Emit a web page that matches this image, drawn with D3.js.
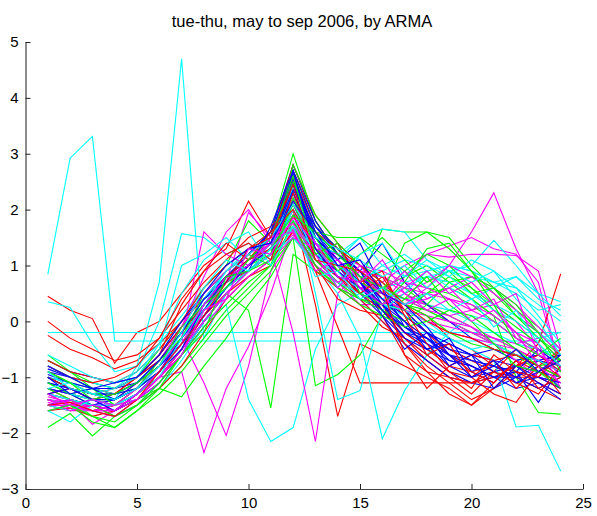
<!DOCTYPE html>
<html>
<head>
<meta charset="utf-8">
<script src="https://cdn.jsdelivr.net/npm/d3@7"></script>
<style>
  body { margin: 0; background: #fff; }
  text { font-family: Arial, "Liberation Sans", sans-serif; }
</style>
</head>
<body>
<div id="chart"></div>
<script>
// hours 1..24, one line per day
const hours = d3.range(1, 25);
const xTicks = [0, 5, 10, 15, 20, 25];
const yTicks = [-3, -2, -1, 0, 1, 2, 3, 4, 5];

const redDays = [
  [0.45,0.2,0.05,-0.75,-0.2,0.0,0.5,1.0,1.3,2.15,1.5,2.7,1.8,1.2,0.9,0.5,0.3,0.1,-0.3,-0.5,-0.8,-0.9,-1.0,-0.6],
  [-0.25,-0.5,-0.65,-0.85,-0.7,-0.4,0.0,0.4,0.8,1.1,1.3,2.3,1.5,1.1,0.7,0.5,0.1,-0.2,-0.5,-0.7,-0.9,-1.0,-1.0,-1.2],
  [-1.0,-1.2,-1.3,-1.4,-1.1,-0.8,-0.3,0.3,0.7,0.9,1.3,2.0,0.3,-1.7,-0.4,-0.6,-0.8,-1.0,-1.2,-1.5,-1.2,-0.9,-1.1,-1.3],
  [-1.3,-1.5,-1.6,-1.5,-1.3,-0.9,-0.4,0.1,0.6,1.0,1.3,1.8,0.9,-0.1,-1.1,-1.1,-1.1,-1.1,-1.1,-1.1,-1.0,-0.8,-0.7,-1.0],
  [-1.1,-1.3,-1.4,-1.5,-1.3,-0.9,-0.4,0.2,0.7,1.1,1.4,2.6,1.7,1.3,0.8,0.2,-0.3,-0.7,-1.0,-1.3,-0.9,-0.5,-0.7,-0.9],
  [-1.5,-1.6,-1.5,-1.6,-1.4,-1.0,-0.6,0.0,0.5,0.9,1.2,2.2,1.3,1.0,0.6,0.3,-0.4,-0.9,-1.3,-1.5,-1.1,-0.7,-0.9,-1.1],
  [-0.9,-1.1,-1.2,-1.3,-1.0,-0.6,-0.1,0.5,0.9,1.2,1.5,2.8,1.9,1.4,1.0,0.6,0.2,-0.2,-0.6,-0.8,-1.0,-0.8,-0.4,0.85],
  [-1.2,-1.4,-1.5,-1.7,-1.5,-1.2,-0.8,-0.2,0.4,0.8,1.1,1.6,0.9,0.6,0.3,-0.1,-0.3,-0.6,-0.9,-1.0,-1.3,-1.45,-0.9,-0.7],
  [-1.4,-1.5,-1.6,-1.5,-1.2,-0.8,-0.3,0.2,0.6,1.0,1.3,2.5,1.6,1.2,0.9,0.4,0.0,-0.3,-0.6,-0.9,-0.8,-1.0,-1.2,-1.4],
  [-0.7,-0.9,-1.0,-1.1,-0.9,-0.5,0.0,0.6,1.0,1.3,1.6,2.4,1.4,0.9,0.5,0.2,-0.2,-0.5,-0.8,-0.6,-0.7,-0.6,-0.8,-0.5],
  [-1.6,-1.55,-1.7,-1.6,-1.3,-1.0,-0.5,0.1,0.5,0.8,1.0,1.9,1.1,0.8,0.4,0.0,-0.4,-0.8,-1.1,-1.4,-1.2,-0.8,-0.6,-0.9],
  [0.0,-0.3,-0.5,-0.7,-0.6,-0.3,0.2,0.7,1.1,1.5,1.7,2.1,1.6,1.3,1.0,0.7,0.3,0.0,-0.2,-0.3,-0.5,-0.6,-0.8,-1.0],
  [-1.0,-1.2,-1.3,-1.2,-1.0,-0.7,-0.2,0.3,0.8,1.1,1.3,1.7,1.0,0.4,0.2,0.1,-0.6,-0.9,-1.0,-1.1,-0.9,-1.1,-1.3,-0.8],
  [-1.3,-1.2,-1.4,-1.3,-1.0,-0.6,0.3,0.9,1.2,1.4,1.1,2.3,1.2,1.4,0.7,0.9,0.1,-0.6,-0.4,-1.0,-0.7,-1.2,-0.8,-1.3],
  [-0.8,-1.0,-1.1,-1.0,-0.8,-0.3,0.4,0.9,1.4,1.1,1.6,2.0,1.3,0.8,0.5,0.8,0.2,-0.4,-0.9,-1.2,-0.6,-0.9,-1.0,-0.5],
  [-1.5,-1.45,-1.6,-1.7,-1.4,-0.9,-0.4,0.1,0.7,1.3,1.5,2.45,1.1,1.0,0.9,0.6,-0.6,-1.2,-0.8,-0.9,-1.1,-0.7,-1.2,-1.0]
];

const greenDays = [
  [-1.0,-1.2,-1.3,-1.3,-1.1,-0.7,-0.2,0.4,0.8,1.2,1.6,3.0,1.8,1.2,0.9,0.6,0.4,0.2,0.0,-0.2,-0.3,-0.5,-0.7,-0.9],
  [-1.9,-1.65,-2.05,-1.7,-1.4,-1.1,-0.6,0.0,0.5,0.9,1.2,2.0,1.2,0.8,0.6,0.5,0.3,0.2,0.0,-0.2,-0.4,-0.6,-0.8,-1.0],
  [-0.6,-0.9,-1.2,-1.5,-1.3,-0.9,-0.5,0.0,0.5,0.2,-1.55,1.2,0.9,0.7,0.5,0.6,0.8,1.0,0.7,0.4,0.1,-0.2,-0.6,-0.8],
  [-1.2,-1.3,-1.5,-1.6,-1.4,-1.0,-0.5,0.1,0.6,1.0,1.3,2.4,1.5,1.0,0.7,1.65,1.6,1.6,1.5,1.0,0.6,0.2,-0.1,-0.5],
  [-1.3,-1.4,-1.7,-1.9,-1.6,-1.2,-0.8,-0.3,0.2,0.6,1.0,1.5,-1.15,-0.95,-0.6,0.1,0.4,0.5,0.6,0.4,0.1,-1.0,-1.63,-1.66],
  [-0.8,-1.0,-1.2,-1.3,-1.2,-0.9,-0.4,0.2,0.7,1.1,1.5,2.7,1.7,1.3,1.0,0.8,0.6,0.3,0.1,-0.1,-0.4,-0.6,-0.8,-0.7],
  [-1.0,-1.2,-1.4,-1.5,-1.4,-1.2,-1.35,-0.8,-0.3,0.3,0.8,1.5,1.0,0.6,0.4,0.3,0.2,0.5,0.8,0.6,0.3,0.0,-0.3,-0.6],
  [-1.5,-1.4,-1.6,-1.5,-1.3,-1.0,-0.5,0.2,0.7,1.0,1.4,2.2,1.4,1.1,0.8,0.5,0.9,1.2,1.0,0.6,0.2,-0.1,-0.4,-0.8],
  [-0.7,-0.9,-1.1,-1.2,-1.0,-0.5,0.0,0.6,1.0,1.8,1.4,2.5,1.6,1.5,1.5,1.2,0.9,0.6,0.5,0.3,0.0,-0.3,-0.5,-0.7],
  [-1.1,-1.3,-1.4,-1.4,-1.2,-0.8,-0.3,0.3,0.7,1.0,1.2,2.8,1.9,1.4,1.0,0.7,0.3,0.1,-0.2,-0.4,-0.5,-0.6,-0.9,-1.1],
  [-1.4,-1.5,-1.8,-1.9,-1.6,-1.3,-0.9,-0.4,0.1,0.5,0.9,1.8,1.1,0.7,0.4,0.2,0.0,0.3,0.7,0.8,0.6,0.3,-0.2,-0.6],
  [-0.9,-1.1,-1.3,-1.4,-1.2,-0.9,-0.4,0.2,0.6,0.9,1.1,2.1,1.3,1.0,0.7,0.5,1.4,1.6,1.3,0.9,0.5,0.1,-0.3,-0.7],
  [-1.2,-1.4,-1.5,-1.7,-1.5,-1.1,-0.6,-0.1,0.3,0.7,1.0,1.7,1.0,0.6,0.3,0.1,-0.1,0.0,0.2,0.1,-0.2,-0.5,-0.8,-1.0],
  [-1.1,-1.3,-1.2,-1.5,-1.2,-0.7,-0.3,0.5,0.9,1.2,1.0,2.2,1.5,0.9,1.2,1.5,1.1,0.7,0.9,0.5,0.6,0.1,-0.2,-0.9],
  [-0.9,-1.1,-1.4,-1.3,-1.1,-0.8,-0.1,0.3,0.6,1.1,1.5,2.6,1.2,1.4,0.5,0.3,0.7,1.3,1.4,0.9,0.3,-0.4,-0.6,-0.3],
  [-1.6,-1.5,-1.7,-1.8,-1.5,-1.2,-0.6,-0.2,0.8,0.9,1.3,1.9,1.6,1.2,0.8,0.6,0.4,0.8,0.3,0.0,-0.4,-0.8,-0.9,-1.2]
];

const blueDays = [
  [-1.0,-1.1,-1.3,-1.4,-1.2,-0.8,-0.3,0.3,0.8,1.1,1.5,2.6,1.6,1.1,0.6,0.2,-0.1,-0.3,-0.5,-0.7,-0.8,-0.9,-1.0,-1.1],
  [-1.2,-1.3,-1.4,-1.5,-1.3,-0.9,-0.4,0.2,0.7,1.0,1.4,2.4,1.4,1.0,0.5,0.1,-0.3,-0.6,-0.9,-1.1,-1.0,-0.9,-1.45,-0.8],
  [-0.9,-1.0,-1.2,-1.3,-1.1,-0.7,-0.2,0.4,0.9,1.2,1.6,2.8,1.8,1.2,0.8,0.4,0.1,-0.2,-0.4,-0.6,-0.7,-0.8,-0.9,-1.0],
  [-1.3,-1.4,-1.5,-1.5,-1.3,-1.0,-0.5,0.1,0.6,1.0,1.3,2.2,1.3,0.9,0.5,0.3,-0.2,-0.5,-0.7,-0.8,-1.0,-1.2,-1.1,-1.3],
  [-1.1,-1.2,-1.3,-1.4,-1.2,-0.8,-0.3,0.3,0.8,1.1,1.5,2.5,1.5,1.0,0.6,0.2,-0.2,-0.4,-0.6,-0.9,-1.1,-0.7,-0.6,-0.9],
  [-0.7,-0.9,-1.0,-1.1,-1.0,-0.6,-0.1,0.5,0.9,1.2,1.6,2.3,1.4,1.2,0.9,1.4,0.7,0.3,0.0,-0.3,-0.5,-0.6,-0.7,-0.8],
  [-1.4,-1.5,-1.4,-1.3,-1.2,-0.9,-0.4,0.2,0.6,0.9,1.2,2.0,1.1,0.8,0.4,0.0,-0.4,-0.7,-1.0,-1.1,-1.2,-1.0,-0.8,-1.2],
  [-0.85,-1.0,-1.1,-1.2,-1.1,-0.7,-0.2,0.4,0.8,1.1,1.5,2.7,1.7,1.3,0.9,0.5,0.2,-0.2,-0.5,-0.6,-0.5,-0.7,-0.6,-0.8],
  [-1.0,-1.2,-1.3,-1.3,-1.1,-0.8,-0.3,0.2,0.7,1.0,1.4,2.45,1.5,1.1,1.4,0.6,-0.1,-0.4,-0.8,-1.0,-0.9,-0.8,-1.0,-1.2],
  [-1.2,-1.3,-1.5,-1.6,-1.4,-1.1,-0.6,0.0,0.5,0.9,1.3,2.1,1.2,0.9,0.6,0.3,-0.1,-0.3,-0.6,-0.7,-0.8,-1.0,-0.7,-0.6],
  [-0.95,-1.1,-1.2,-1.2,-1.0,-0.7,-0.2,0.3,0.8,1.2,1.6,2.55,1.6,1.2,0.8,0.4,0.0,-0.3,-0.6,-0.8,-1.0,-0.9,-0.5,-0.8],
  [-1.5,-1.4,-1.5,-1.4,-1.2,-0.8,-0.4,0.1,0.6,1.0,1.3,2.3,1.4,1.0,0.7,0.2,-0.3,-0.5,-0.4,-0.6,-0.9,-1.1,-1.0,-1.1],
  [-1.1,-1.2,-1.4,-1.4,-1.2,-0.9,-0.3,0.2,0.8,1.0,1.5,2.65,1.5,1.1,0.7,0.3,-0.2,-0.3,-0.7,-0.8,-1.0,-1.0,-1.2,-1.0],
  [-1.0,-1.3,-1.2,-1.4,-1.1,-0.7,-0.2,0.4,0.7,1.3,1.4,2.35,1.7,1.2,0.9,0.3,0.0,-0.5,-0.3,-0.9,-0.7,-1.1,-0.9,-0.6],
  [-1.3,-1.2,-1.4,-1.6,-1.3,-0.9,-0.5,0.3,0.8,0.9,1.7,2.7,1.3,0.8,0.7,0.1,-0.5,-0.2,-0.8,-0.6,-1.2,-0.8,-1.1,-1.4],
  [-0.8,-1.0,-1.2,-1.1,-1.0,-0.6,0.0,0.5,1.0,1.3,1.4,2.15,1.6,1.0,1.1,0.5,0.3,-0.1,-0.6,-1.0,-0.8,-0.5,-0.9,-0.7]
];

const cyanDays = [
  [0.84,2.92,3.31,-0.35,-0.35,-0.35,-0.35,-0.35,-0.35,-0.35,-0.35,-0.35,-0.35,-0.35,-0.35,-0.35,-0.35,-0.35,-0.35,-0.35,-0.35,-0.35,-0.35,-0.35],
  [-0.2,-0.2,-0.2,-0.2,-0.2,-0.2,-0.2,-0.2,-0.2,-0.2,-0.2,-0.2,-0.2,-0.2,-0.2,-0.2,-0.2,-0.2,-0.2,-0.2,-0.2,-0.2,-0.2,-0.2],
  [-1.0,-1.2,-1.3,-1.4,-0.8,0.7,4.7,-0.3,0.5,0.9,1.2,1.8,1.1,0.8,0.6,0.5,0.4,0.3,0.2,0.0,-0.2,-0.4,-0.5,-0.7],
  [0.35,0.25,-0.4,-0.9,-0.8,-0.4,0.1,0.6,1.0,1.3,1.2,1.8,1.3,1.1,1.5,1.65,1.6,1.1,0.9,1.0,1.45,1.0,0.5,0.35],
  [-1.3,-1.4,-1.5,-1.6,-1.4,-1.0,-0.5,0.0,0.3,-1.4,-2.15,-1.9,-0.5,0.3,0.5,0.6,0.7,0.8,0.9,0.8,0.7,0.5,0.2,0.3],
  [-1.6,-1.8,-1.5,-1.7,-1.5,-1.2,-0.7,-0.1,0.4,0.8,1.1,1.9,1.0,0.5,-0.3,-2.1,-1.24,-0.6,-0.2,0.1,0.0,-0.3,-0.5,-0.6],
  [-1.2,-1.3,-1.4,-1.5,-1.4,-1.0,-0.5,0.1,0.6,1.0,1.3,2.2,1.3,0.9,0.6,0.3,0.1,-0.1,-0.3,-0.5,-0.7,-1.89,-1.86,-2.68],
  [-1.0,-1.1,-1.2,-1.3,-1.1,-0.7,-0.2,0.4,0.9,1.3,1.6,1.6,1.4,1.2,1.5,1.0,0.8,0.9,1.0,0.9,0.7,0.8,0.4,0.2],
  [-0.8,-1.0,-1.1,-1.2,-0.9,0.0,1.57,1.5,1.2,1.4,1.1,2.0,1.2,0.8,0.6,0.4,0.6,0.8,0.7,0.5,0.3,0.1,-0.2,-0.5],
  [-1.1,-1.3,-1.4,-1.5,-1.3,-0.9,-0.4,0.2,0.7,1.0,1.4,2.3,0.5,-1.4,-1.24,0.2,0.5,0.9,1.0,0.9,0.7,0.6,0.3,0.0],
  [-1.4,-1.5,-1.6,-1.7,-1.5,-1.1,-0.6,0.0,0.5,0.9,1.2,1.5,1.0,0.7,0.5,0.3,0.2,0.0,-0.3,-0.5,-0.4,-0.6,-0.7,-0.9],
  [-0.6,-0.8,-1.0,-1.1,-0.9,-0.5,1.0,1.2,1.5,1.1,1.3,2.0,1.2,1.0,0.8,0.9,1.1,1.0,0.8,0.5,0.2,0.0,-0.3,-0.2],
  [-1.3,-1.4,-1.5,-1.5,-1.3,-0.9,-0.4,0.2,0.6,0.9,1.3,2.4,1.4,1.0,0.7,1.0,1.2,0.9,0.6,0.4,0.6,0.8,0.5,0.1],
  [-1.2,-1.1,-1.3,-1.2,-1.0,-0.4,0.5,1.1,1.4,1.6,1.0,1.7,1.3,0.6,1.2,1.4,0.8,1.1,0.8,1.1,0.9,0.6,0.1,-0.4],
  [-1.5,-1.6,-1.4,-1.5,-1.3,-1.0,-0.3,0.3,0.9,1.2,1.5,2.1,1.5,1.3,1.1,0.8,1.0,0.6,0.9,0.7,0.9,0.4,0.0,-0.6],
  [-0.9,-1.2,-1.3,-1.4,-1.2,-0.8,-0.2,0.6,1.1,0.9,1.3,1.7,0.8,0.9,0.4,0.6,0.3,0.5,0.2,0.4,-0.1,0.2,-0.4,-0.8]
];

const magentaDays = [
  [-1.4,-1.5,-1.5,-1.6,-1.3,-0.9,-0.4,0.1,0.6,0.9,1.2,1.6,1.0,0.6,0.4,0.3,0.5,0.7,1.0,1.6,2.3,1.3,0.5,-0.9],
  [-1.3,-1.4,-1.5,-1.5,-1.3,-1.0,-0.5,0.0,0.5,0.9,1.2,1.8,1.1,0.7,0.3,0.3,0.8,1.2,1.35,1.5,1.3,1.2,0.7,-0.9],
  [-1.5,-1.5,-1.6,-1.6,-1.4,-1.0,-0.9,-2.35,-1.2,-0.45,0.5,1.7,1.0,0.7,0.5,0.3,0.2,0.0,-0.2,-0.3,-0.4,-0.6,-0.8,-1.0],
  [-1.4,-1.5,-1.5,-1.5,-1.2,-0.8,-0.3,-1.1,-2.04,-0.8,0.9,1.5,1.2,1.0,0.8,0.6,0.4,0.3,0.1,0.2,0.3,0.0,-0.5,-0.8],
  [-1.45,-1.55,-1.6,-1.5,-1.3,-0.9,-0.4,0.1,0.6,1.0,1.3,-0.2,-2.15,0.5,0.9,0.8,0.5,0.3,0.0,-0.2,-0.4,-0.5,-0.7,-0.9],
  [-1.3,-1.4,-1.5,-1.4,-1.2,-0.7,-0.1,0.8,1.6,2.0,1.4,1.9,1.3,1.0,0.7,0.4,0.2,0.1,0.0,-0.1,-0.3,-0.5,-0.7,-0.6],
  [-1.5,-1.6,-1.6,-1.7,-1.5,-1.1,-0.6,0.0,0.5,0.9,1.2,1.55,1.1,0.8,0.6,0.7,1.0,1.2,1.15,1.2,1.2,1.18,0.9,-0.5],
  [-1.4,-1.45,-1.84,-1.6,-1.3,-0.9,-0.4,0.1,0.7,1.95,1.5,1.7,1.2,0.9,0.6,0.4,0.2,0.0,-0.1,-0.2,-0.3,-0.4,-0.3,-0.7],
  [-1.2,-1.3,-1.4,-1.5,-1.3,-0.9,-0.3,1.6,1.2,1.0,1.3,2.0,1.2,0.9,0.6,0.5,0.3,0.4,0.6,0.8,0.6,0.3,-0.1,-0.5],
  [-1.5,-1.5,-1.5,-1.5,-1.3,-1.0,-0.5,0.1,0.6,1.0,1.4,2.1,1.3,1.0,0.8,0.6,0.4,0.2,0.1,-0.1,-0.4,-0.7,-1.0,-1.1],
  [-1.35,-1.45,-1.5,-1.4,-1.2,-0.8,-0.3,0.2,0.7,1.1,1.4,1.65,1.0,0.7,0.9,0.8,0.6,0.5,0.4,0.3,0.1,-0.2,-0.4,-1.2],
  [-1.6,-1.5,-1.6,-1.7,-1.4,-1.1,-0.6,-0.1,0.4,0.8,1.1,1.5,1.3,1.2,1.0,0.9,0.7,0.6,0.4,0.2,0.0,-0.3,-0.6,-0.8],
  [-1.4,-1.5,-1.6,-1.6,-1.4,-1.0,-0.5,0.0,0.5,0.9,1.3,2.2,1.4,1.1,0.8,0.5,0.3,0.6,1.0,0.8,0.5,0.2,-0.2,-0.6],
  [-1.5,-1.4,-1.6,-1.5,-1.2,-0.8,-0.1,0.5,0.9,1.2,1.5,1.75,1.2,0.6,1.0,0.5,0.9,0.4,0.6,0.2,0.4,-0.3,-0.5,-1.0],
  [-1.4,-1.6,-1.5,-1.6,-1.3,-0.9,-0.4,0.3,0.8,1.0,1.5,1.6,0.9,1.1,0.6,0.3,0.6,0.9,0.5,0.7,0.3,0.5,-0.6,-0.8],
  [-1.3,-1.5,-1.4,-1.5,-1.4,-1.0,-0.6,0.2,0.4,1.3,1.2,1.85,1.4,0.8,0.7,1.1,0.5,0.2,0.4,0.0,0.2,-0.2,-0.8,-1.1]
];

const groups = [
  { color: "#ff0000", days: redDays },
  { color: "#00ff00", days: greenDays },
  { color: "#0000ff", days: blueDays },
  { color: "#00ffff", days: cyanDays },
  { color: "#ff00ff", days: magentaDays }
];

let width = 597;
let height = 516;

// matlab style colour cycle: r, g, b, c, m, r, g, ...
let lines = [];
for (let i = 0; i < redDays.length; i++) {
    groups.forEach(g => {
        if (g.days[i]) lines.push({ color: g.color, values: g.days[i] });
    });
}

let svg = d3.select("#chart").append("svg")
    .attr("width", width)
    .attr("height", height);

let x = d3.scaleLinear().domain([0, 25]).range([25.5, 583]);
let y = d3.scaleLinear().domain([-3, 5]).range([489, 42]);

let line = d3.line()
    .x((d, i) => x(hours[i]))
    .y(d => y(d));

svg.append("g")
    .selectAll("path")
    .data(lines)
    .enter()
    .append("path")
    .attr("d", d => line(d.values))
    .attr("fill", "none")
    .attr("stroke", d => d.color)
    .attr("stroke-width", 1.1);

/* axes, ticks point inwards */
let xAxis = d3.axisBottom(x).tickValues(xTicks).tickSize(-5).tickPadding(8).tickSizeOuter(0);
let yAxis = d3.axisLeft(y).tickValues(yTicks).tickSize(-5).tickPadding(7).tickSizeOuter(0);

let gx = svg.append("g")
    .attr("transform", `translate(0, ${y(-3)})`)
    .call(xAxis);

let gy = svg.append("g")
    .attr("transform", `translate(${x(0)}, 0)`)
    .call(yAxis);

[gx, gy].forEach(g => {
    g.select(".domain").attr("stroke", "#404040").attr("stroke-width", 1.2);
    g.selectAll(".tick line").attr("stroke", "#222");
    g.selectAll("text")
        .attr("fill", "#000")
        .style("font-size", "15px")
        .style("font-family", "Arial, 'Liberation Sans', sans-serif");
});

svg.append("text")
    .attr("x", 302)
    .attr("y", 27)
    .attr("text-anchor", "middle")
    .style("font-size", "16.5px")
    .attr("fill", "#000")
    .text("tue-thu, may to sep 2006, by ARMA");
</script>
</body>
</html>
